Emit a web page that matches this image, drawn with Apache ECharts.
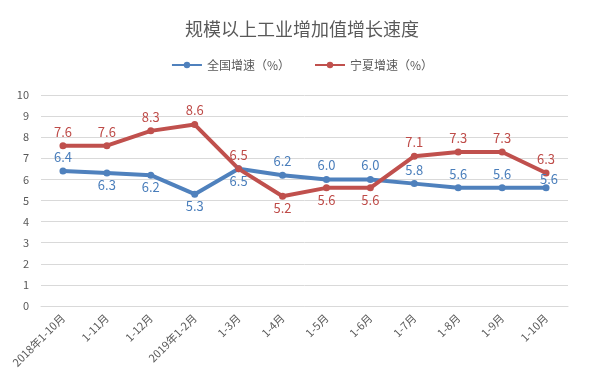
<!DOCTYPE html>
<html><head><meta charset="utf-8">
<script src="https://cdn.jsdelivr.net/npm/echarts@6/dist/echarts.min.js"></script>
<style>html,body{margin:0;padding:0;background:#fff}#c{width:604px;height:380px}</style>
</head><body><div id="c"></div>
<script>
var categories = ['2018年1-10月','1-11月','1-12月','2019年1-2月','1-3月','1-4月','1-5月','1-6月','1-7月','1-8月','1-9月','1-10月'];
var nationalValues = [6.4, 6.3, 6.2, 5.3, 6.5, 6.2, 6.0, 6.0, 5.8, 5.6, 5.6, 5.6];
var ningxiaValues = [7.6, 7.6, 8.3, 8.6, 6.5, 5.2, 5.6, 5.6, 7.1, 7.3, 7.3, 6.3];
var nationalLabelPos = ['top','bottom','bottom','bottom','bottom','top','top','top','top','top','top','top'];
var ningxiaLabelPos = ['top','top','top','top','top','bottom','bottom','bottom','top','top','top','top'];

var FONT = '"Noto Sans CJK SC", "Noto Sans", sans-serif';
var BLUE = '#4F81BD', RED = '#C0504D';

function mk(vals, pos) {
  return vals.map(function (v, i) {
    return { value: v, label: { position: pos[i], distance: pos[i] === 'bottom' ? 2 : 4 } };
  });
}
var nat = mk(nationalValues, nationalLabelPos);
nat[11].label.offset = [3, 5];
var nx = mk(ningxiaValues, ningxiaLabelPos);

var chart = echarts.init(document.getElementById('c'));
chart.setOption({
  animation: false,
  textStyle: { fontFamily: FONT },
  title: {
    text: '规模以上工业增加值增长速度',
    left: 'center', top: 15,
    textStyle: { fontFamily: FONT, fontSize: 18, fontWeight: 'normal', color: '#595959' }
  },
  legend: {
    top: 54, left: 'center', itemGap: 24, itemWidth: 30, itemHeight: 8,
    textStyle: { fontFamily: FONT, fontSize: 12, color: '#595959' },
    data: ['全国增速（%）', '宁夏增速（%）']
  },
  grid: { left: 41, right: 36, top: 95, bottom: 74 },
  xAxis: {
    type: 'category', data: categories, boundaryGap: true,
    axisLine: { show: true, lineStyle: { color: '#d9d9d9' } },
    axisTick: { show: false },
    axisLabel: { rotate: 45, color: '#595959', fontSize: 11, fontFamily: FONT, interval: 0, margin: 10 }
  },
  yAxis: {
    type: 'value', min: 0, max: 10, interval: 1,
    axisLine: { show: false }, axisTick: { show: false },
    axisLabel: { color: '#595959', fontSize: 11, fontFamily: FONT, margin: 12 },
    splitLine: { lineStyle: { color: '#d9d9d9', width: 1 } }
  },
  series: [
    {
      name: '全国增速（%）', type: 'line', data: nat,
      symbol: 'circle', symbolSize: 7,
      lineStyle: { color: BLUE, width: 4 }, itemStyle: { color: BLUE },
      label: { show: true, color: '#4A7EBB', fontSize: 13, fontFamily: FONT, formatter: function(p){return p.value.toFixed(1);} }
    },
    {
      name: '宁夏增速（%）', type: 'line', data: nx,
      symbol: 'circle', symbolSize: 7,
      lineStyle: { color: RED, width: 4 }, itemStyle: { color: RED },
      label: { show: true, color: '#BE4B48', fontSize: 13, fontFamily: FONT, formatter: function(p){return p.value.toFixed(1);} }
    }
  ]
});
</script></body></html>
